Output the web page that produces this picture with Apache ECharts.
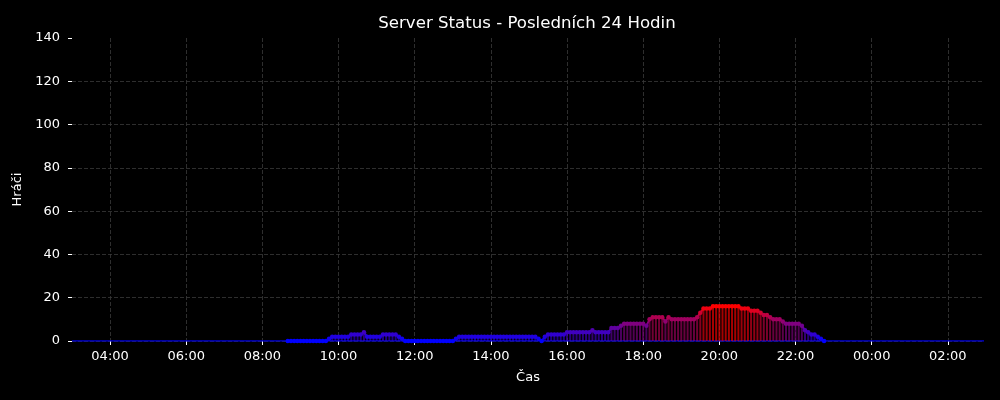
<!DOCTYPE html>
<html>
<head>
<meta charset="utf-8">
<script src="https://cdn.jsdelivr.net/npm/echarts@6/dist/echarts.min.js"></script>
<style>
html,body{margin:0;padding:0;background:#000;}
#chart{width:1000px;height:400px;}
</style>
</head>
<body>
<div id="chart"></div>
<script>
// ---- data ----
const titleText = 'Server Status - Posledních 24 Hodin';
const xName = 'Čas';
const yName = 'Hráči';
const startHour = 8 + 40 / 60;   // first sample 08:40
const stepMinutes = 5;
const players = [
  0,0,0,0,
  0,0,0,0,0,0,0,0,0,
  1,
  2,2,2,2,2,2,
  3,3,3,3,
  4,
  2,2,2,2,2,
  3,3,3,3,3,
  2,1,
  0,0,0,0,0,0,0,0,0,0,0,0,0,0,0,0,
  1,
  2,2,2,2,2,2,2,2,2,2,2,2,2,2,2,2,2,2,2,2,2,2,2,2,2,
  1,0,2,
  3,3,3,3,3,3,
  4,4,4,4,4,4,4,4,
  5,
  4,4,4,4,4,
  6,6,6,
  7,
  8,8,8,8,8,8,8,
  7,
  10,
  11,11,11,11,
  9,11,
  10,10,10,10,10,10,10,10,
  11,13,
  15,15,15,
  16,16,16,16,16,16,16,16,16,
  15,15,15,
  14,14,14,
  13,12,12,11,
  10,10,10,
  9,
  8,8,8,8,8,
  7,5,4,3,3,2,1,0
];
const xRange = [3.0, 26.95];           // hours (03:00 .. next-day ~02:57)
const xTickHours = [4,6,8,10,12,14,16,18,20,22,24,26];
const yTicks = {min: 0, max: 140, interval: 20};

// ---- build ----
const points = players.map((v, i) => [startHour + i * stepMinutes / 60, v]);
const fmtHour = h => String(Math.round(h) % 24).padStart(2, '0') + ':00';

const chart = echarts.init(document.getElementById('chart'), null, {renderer: 'canvas'});
const font = 'DejaVu Sans';
const gridColor = '#3a3a3a';

chart.setOption({
  backgroundColor: '#000',
  animation: false,
  title: {
    text: titleText,
    left: 522, top: 10, textAlign: 'center',
    textStyle: {color: '#fff', fontFamily: font, fontSize: 16.6, fontWeight: 'normal'}
  },
  grid: {left: 72, right: 16, top: 38, bottom: 59},
  xAxis: {
    type: 'value',
    min: xRange[0], max: xRange[1],
    name: xName, nameLocation: 'middle', nameGap: 30,
    nameTextStyle: {color: '#fff', fontFamily: font, fontSize: 13},
    axisLine: {show: false},
    axisTick: {show: true, customValues: xTickHours, length: 4, lineStyle: {color: '#fff', width: 1}},
    axisLabel: {customValues: xTickHours, color: '#fff', fontFamily: font, fontSize: 13, margin: 9, formatter: fmtHour},
    splitLine: {show: true, lineStyle: {color: gridColor, type: [4, 2], width: 0.8}}
  },
  yAxis: {
    type: 'value',
    min: yTicks.min, max: yTicks.max, interval: yTicks.interval,
    name: yName, nameLocation: 'middle', nameGap: 38, nameRotate: 90,
    nameTextStyle: {color: '#fff', fontFamily: font, fontSize: 13},
    axisLine: {show: false},
    axisTick: {show: true, length: 4, lineStyle: {color: '#fff', width: 1}},
    axisLabel: {color: '#fff', fontFamily: font, fontSize: 13, margin: 12},
    splitLine: {show: true, lineStyle: {
      color: [gridColor, gridColor, gridColor, gridColor, gridColor, gridColor, gridColor, 'rgba(0,0,0,0)'],
      type: [4, 2], width: 0.8}}
  },
  visualMap: {
    type: 'continuous', show: false,
    min: 0, max: 16, dimension: 1,
    seriesIndex: [1, 2],
    inRange: {color: ['#0000ff', '#ff0000']}
  },
  series: [
    {
      type: 'line', data: [[xRange[0], 0], [xRange[1], 0]],
      symbol: 'none', silent: true, z: 1,
      lineStyle: {color: '#0000d8', width: 1.5}
    },
    {
      type: 'bar', data: points, barWidth: 2, z: 2,
      itemStyle: {opacity: 0.65}
    },
    {
      type: 'line', data: points, z: 3,
      symbol: 'circle', symbolSize: 4.5, showAllSymbol: true,
      lineStyle: {width: 2}
    }
  ]
});
</script>
</body>
</html>
